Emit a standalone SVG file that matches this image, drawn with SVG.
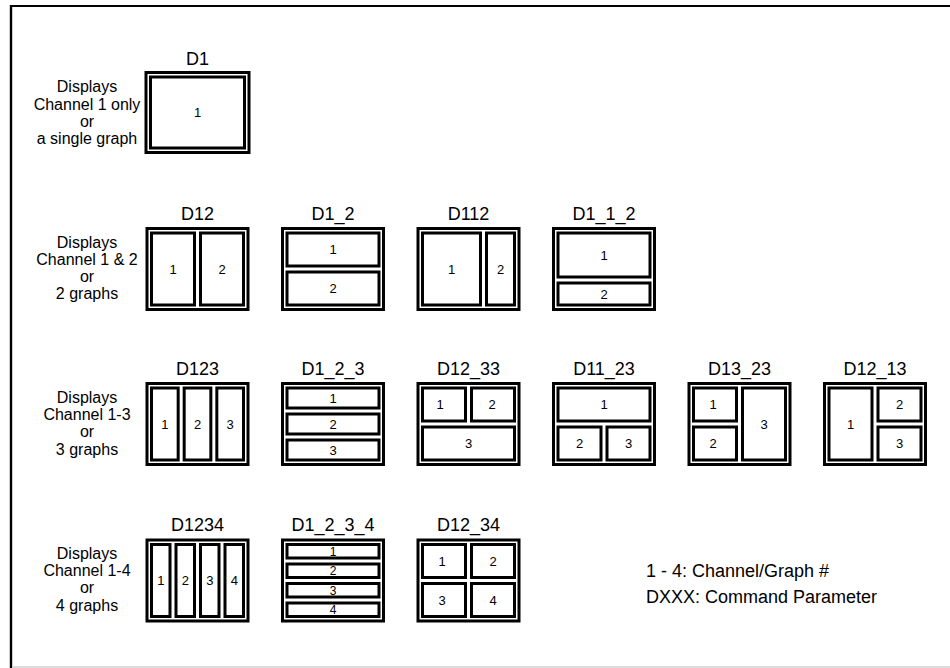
<svg xmlns="http://www.w3.org/2000/svg" width="950" height="668" viewBox="0 0 950 668">
<style>
  .frame{fill:#fff;stroke:#000;stroke-width:3}
  .pane{fill:#fff;stroke:#000;stroke-width:3}
  .title{font-family:"Liberation Sans",Arial,sans-serif;font-size:18px;text-anchor:middle;fill:#000}
  .num{font-family:"Liberation Sans",Arial,sans-serif;font-size:13px;text-anchor:middle;fill:#000}
  .sm{font-size:12px}
  .desc{font-family:"Liberation Sans",Arial,sans-serif;font-size:16px;text-anchor:middle;fill:#000}
  .legend{font-family:"Liberation Sans",Arial,sans-serif;font-size:18px;fill:#000}
</style>
<rect x="0" y="0" width="950" height="668" fill="#fff"/>
<g id="border">
  <line x1="10" y1="6" x2="950" y2="6" stroke="#000" stroke-width="2"/>
  <line x1="11" y1="5" x2="11" y2="668" stroke="#000" stroke-width="2.4"/>
  <line x1="12" y1="667" x2="950" y2="667" stroke="#d0d0d0" stroke-width="1.5"/>
</g>
<g id="connectors"></g>

<g id="desc-row1">
  <text class="desc" x="87" y="92">Displays</text>
  <text class="desc" x="87" y="109.5">Channel 1 only</text>
  <text class="desc" x="87" y="126.5">or</text>
  <text class="desc" x="87" y="143.5">a single graph</text>
</g>
<g id="desc-row2">
  <text class="desc" x="87" y="248">Displays</text>
  <text class="desc" x="87" y="265">Channel 1 &amp; 2</text>
  <text class="desc" x="87" y="282">or</text>
  <text class="desc" x="87" y="299">2 graphs</text>
</g>
<g id="desc-row3">
  <text class="desc" x="87" y="403">Displays</text>
  <text class="desc" x="87" y="420">Channel 1-3</text>
  <text class="desc" x="87" y="437">or</text>
  <text class="desc" x="87" y="454.5">3 graphs</text>
</g>
<g id="desc-row4">
  <text class="desc" x="87" y="559">Displays</text>
  <text class="desc" x="87" y="576">Channel 1-4</text>
  <text class="desc" x="87" y="593">or</text>
  <text class="desc" x="87" y="610.5">4 graphs</text>
</g>

<!-- Row 1 -->
<g id="D1" transform="translate(146,72.5)">
  <text class="title" x="51.5" y="-8">D1</text>
  <rect class="frame" x="0" y="0" width="103" height="80"/>
  <rect class="pane" x="4.5" y="4.5" width="94" height="71"/>
  <text class="num" x="51.5" y="44.7">1</text>
</g>

<!-- Row 2 -->
<g id="D12" transform="translate(147,228.5)">
  <text class="title" x="50.5" y="-9">D12</text>
  <rect class="frame" x="0" y="0" width="101" height="81"/>
  <rect class="pane" x="4.5" y="4.5" width="43" height="72"/>
  <rect class="pane" x="53.5" y="4.5" width="43" height="72"/>
  <text class="num" x="26" y="45.2">1</text>
  <text class="num" x="75" y="45.2">2</text>
</g>
<g id="D1_2" transform="translate(282.5,228.5)">
  <text class="title" x="50.5" y="-9">D1_2</text>
  <rect class="frame" x="0" y="0" width="101" height="81"/>
  <rect class="pane" x="4.5" y="4.5" width="92" height="33"/>
  <rect class="pane" x="4.5" y="43.5" width="92" height="33"/>
  <text class="num" x="50.5" y="25.7">1</text>
  <text class="num" x="50.5" y="64.7">2</text>
</g>
<g id="D112" transform="translate(418,228.5)">
  <text class="title" x="50.5" y="-9">D112</text>
  <rect class="frame" x="0" y="0" width="101" height="81"/>
  <rect class="pane" x="4.5" y="4.5" width="58" height="72"/>
  <rect class="pane" x="68.5" y="4.5" width="28" height="72"/>
  <text class="num" x="33.5" y="45.2">1</text>
  <text class="num" x="82.5" y="45.2">2</text>
</g>
<g id="D1_1_2" transform="translate(553.5,228.5)">
  <text class="title" x="50.5" y="-9">D1_1_2</text>
  <rect class="frame" x="0" y="0" width="101" height="81"/>
  <rect class="pane" x="4.5" y="4.5" width="92" height="44"/>
  <rect class="pane" x="4.5" y="54.5" width="92" height="22"/>
  <text class="num" x="50.5" y="31.2">1</text>
  <text class="num" x="50.5" y="70.2">2</text>
</g>

<!-- Row 3 -->
<g id="D123" transform="translate(147,383.5)">
  <text class="title" x="50.5" y="-9">D123</text>
  <rect class="frame" x="0" y="0" width="101" height="81"/>
  <rect class="pane" x="4.5" y="4.5" width="26.67" height="72"/>
  <rect class="pane" x="37.17" y="4.5" width="26.67" height="72"/>
  <rect class="pane" x="69.83" y="4.5" width="26.67" height="72"/>
  <text class="num" x="17.8" y="45.2">1</text>
  <text class="num" x="50.5" y="45.2">2</text>
  <text class="num" x="83.2" y="45.2">3</text>
</g>
<g id="D1_2_3" transform="translate(282.5,383.5)">
  <text class="title" x="50.5" y="-9">D1_2_3</text>
  <rect class="frame" x="0" y="0" width="101" height="81"/>
  <rect class="pane" x="4.5" y="4.5" width="92" height="20"/>
  <rect class="pane" x="4.5" y="30.5" width="92" height="20"/>
  <rect class="pane" x="4.5" y="56.5" width="92" height="20"/>
  <text class="num" x="50.5" y="19.2">1</text>
  <text class="num" x="50.5" y="45.2">2</text>
  <text class="num" x="50.5" y="71.2">3</text>
</g>
<g id="D12_33" transform="translate(418,383.5)">
  <text class="title" x="50.5" y="-9">D12_33</text>
  <rect class="frame" x="0" y="0" width="101" height="81"/>
  <rect class="pane" x="4.5" y="4.5" width="43" height="33"/>
  <rect class="pane" x="53.5" y="4.5" width="43" height="33"/>
  <rect class="pane" x="4.5" y="43.5" width="92" height="33"/>
  <text class="num" x="22" y="25.7">1</text>
  <text class="num" x="74" y="25.7">2</text>
  <text class="num" x="50.5" y="64.7">3</text>
</g>
<g id="D11_23" transform="translate(553.5,383.5)">
  <text class="title" x="50.5" y="-9">D11_23</text>
  <rect class="frame" x="0" y="0" width="101" height="81"/>
  <rect class="pane" x="4.5" y="4.5" width="92" height="33"/>
  <rect class="pane" x="4.5" y="43.5" width="43" height="33"/>
  <rect class="pane" x="53.5" y="43.5" width="43" height="33"/>
  <text class="num" x="50.5" y="25.7">1</text>
  <text class="num" x="26" y="64.7">2</text>
  <text class="num" x="75" y="64.7">3</text>
</g>
<g id="D13_23" transform="translate(689,383.5)">
  <text class="title" x="50.5" y="-9">D13_23</text>
  <rect class="frame" x="0" y="0" width="101" height="81"/>
  <rect class="pane" x="4.5" y="4.5" width="43" height="33"/>
  <rect class="pane" x="4.5" y="43.5" width="43" height="33"/>
  <rect class="pane" x="53.5" y="4.5" width="43" height="72"/>
  <text class="num" x="24" y="25.7">1</text>
  <text class="num" x="24" y="64.7">2</text>
  <text class="num" x="75" y="45.2">3</text>
</g>
<g id="D12_13" transform="translate(824.5,383.5)">
  <text class="title" x="50.5" y="-9">D12_13</text>
  <rect class="frame" x="0" y="0" width="101" height="81"/>
  <rect class="pane" x="4.5" y="4.5" width="43" height="72"/>
  <rect class="pane" x="53.5" y="4.5" width="43" height="33"/>
  <rect class="pane" x="53.5" y="43.5" width="43" height="33"/>
  <text class="num" x="26" y="45.2">1</text>
  <text class="num" x="75" y="25.7">2</text>
  <text class="num" x="75" y="64.7">3</text>
</g>

<!-- Row 4 -->
<g id="D1234" transform="translate(147,540)">
  <text class="title" x="50.5" y="-9">D1234</text>
  <rect class="frame" x="0" y="0" width="101" height="81"/>
  <rect class="pane" x="4.5" y="4.5" width="18.5" height="72"/>
  <rect class="pane" x="29" y="4.5" width="18.5" height="72"/>
  <rect class="pane" x="53.5" y="4.5" width="18.5" height="72"/>
  <rect class="pane" x="78" y="4.5" width="18.5" height="72"/>
  <text class="num" x="13.75" y="45.2">1</text>
  <text class="num" x="38.25" y="45.2">2</text>
  <text class="num" x="62.75" y="45.2">3</text>
  <text class="num" x="87.25" y="45.2">4</text>
</g>
<g id="D1_2_3_4" transform="translate(282.5,540)">
  <text class="title" x="50.5" y="-9">D1_2_3_4</text>
  <rect class="frame" x="0" y="0" width="101" height="81"/>
  <rect class="pane" x="4.5" y="4.5" width="92" height="13.5"/>
  <rect class="pane" x="4.5" y="24" width="92" height="13.5"/>
  <rect class="pane" x="4.5" y="43.5" width="92" height="13.5"/>
  <rect class="pane" x="4.5" y="63" width="92" height="13.5"/>
  <text class="num sm" x="50.5" y="15.6">1</text>
  <text class="num sm" x="50.5" y="35.1">2</text>
  <text class="num sm" x="50.5" y="54.6">3</text>
  <text class="num sm" x="50.5" y="74.1">4</text>
</g>
<g id="D12_34" transform="translate(418,540)">
  <text class="title" x="50.5" y="-9">D12_34</text>
  <rect class="frame" x="0" y="0" width="101" height="81"/>
  <rect class="pane" x="4.5" y="4.5" width="43" height="33"/>
  <rect class="pane" x="53.5" y="4.5" width="43" height="33"/>
  <rect class="pane" x="4.5" y="43.5" width="43" height="33"/>
  <rect class="pane" x="53.5" y="43.5" width="43" height="33"/>
  <text class="num" x="24" y="25.7">1</text>
  <text class="num" x="75" y="25.7">2</text>
  <text class="num" x="24" y="64.7">3</text>
  <text class="num" x="75" y="64.7">4</text>
</g>

<g id="legend">
  <text class="legend" x="646" y="576.5">1 - 4: Channel/Graph #</text>
  <text class="legend" x="646" y="602.5">DXXX: Command Parameter</text>
</g>
</svg>
